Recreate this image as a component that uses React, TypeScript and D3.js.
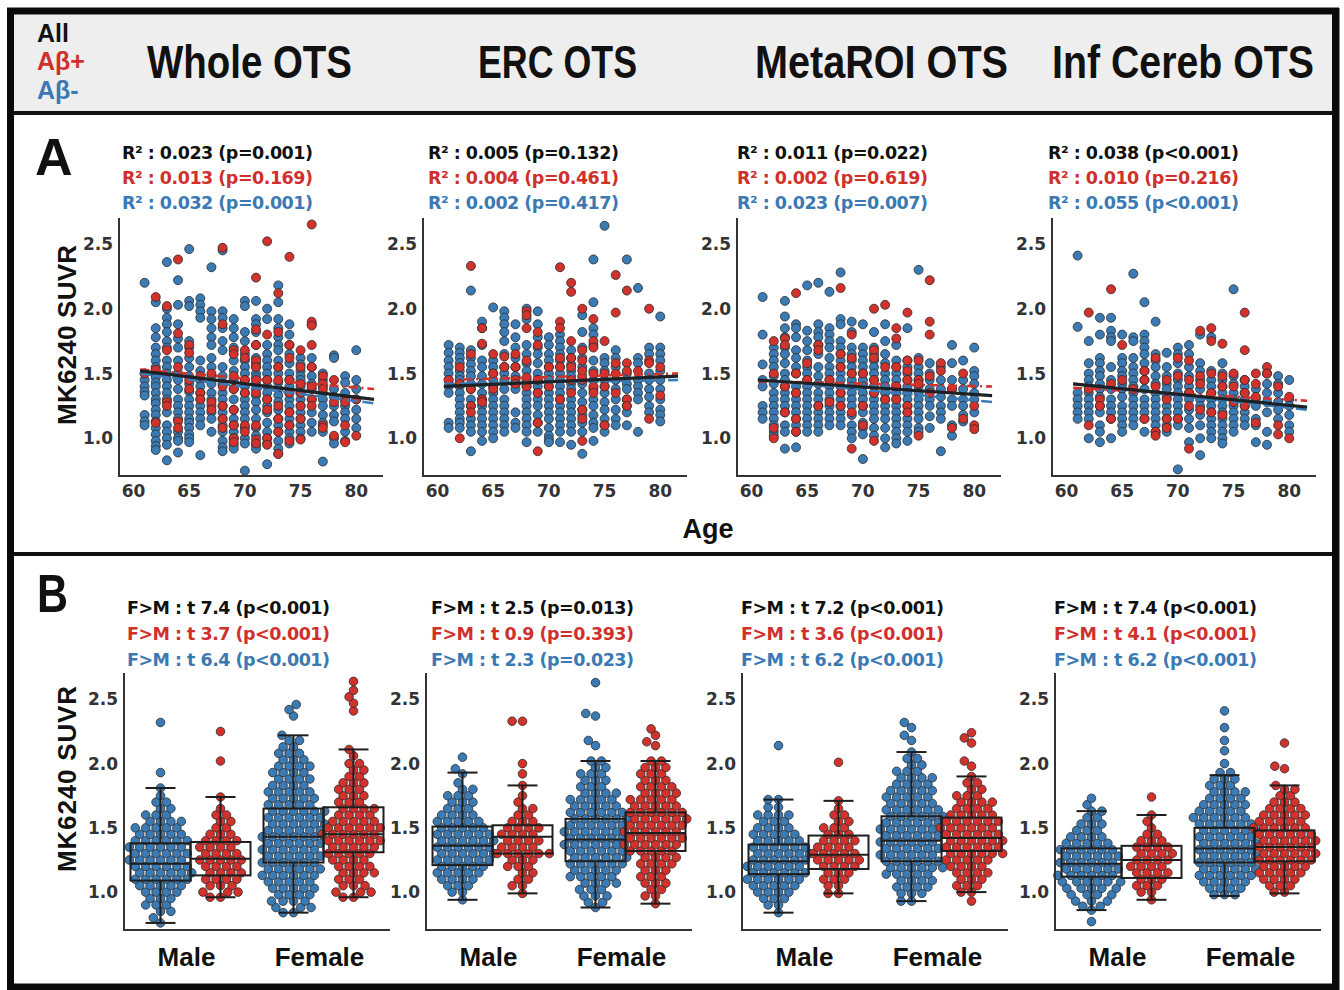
import React from "react";
import * as d3 from "d3";

// ---- labels ----
const regionTitles = ["Whole OTS", "ERC OTS", "MetaROI OTS", "Inf Cereb OTS"];
const groupNames = ["All", "Aβ+", "Aβ-"];
const ageTicks = [60, 65, 70, 75, 80];
const suvrTicks = [1.0, 1.5, 2.0, 2.5];
const sexLabels = ["Male", "Female"];

const ageStatText = [
  ["R² : 0.023 (p=0.001)", "R² : 0.013 (p=0.169)", "R² : 0.032 (p=0.001)"],
  ["R² : 0.005 (p=0.132)", "R² : 0.004 (p=0.461)", "R² : 0.002 (p=0.417)"],
  ["R² : 0.011 (p=0.022)", "R² : 0.002 (p=0.619)", "R² : 0.023 (p=0.007)"],
  ["R² : 0.038 (p<0.001)", "R² : 0.010 (p=0.216)", "R² : 0.055 (p<0.001)"],
];
const sexStatText = [
  ["F>M : t 7.4 (p<0.001)", "F>M : t 3.7 (p<0.001)", "F>M : t 6.4 (p<0.001)"],
  ["F>M : t 2.5 (p=0.013)", "F>M : t 0.9 (p=0.393)", "F>M : t 2.3 (p=0.023)"],
  ["F>M : t 7.2 (p<0.001)", "F>M : t 3.6 (p<0.001)", "F>M : t 6.2 (p<0.001)"],
  ["F>M : t 7.4 (p<0.001)", "F>M : t 4.1 (p<0.001)", "F>M : t 6.2 (p<0.001)"],
];

// ---- regression fits: value at fitAges for [All, Ab+, Ab-] ----
const fitAges = [60.6, 81.6];
const wholeFit = [[1.52, 1.3], [1.53, 1.38], [1.5, 1.27]];
const ercFit = [[1.4, 1.48], [1.45, 1.5], [1.42, 1.45]];
const metaFit = [[1.45, 1.33], [1.44, 1.4], [1.45, 1.28]];
const infFit = [[1.42, 1.24], [1.39, 1.29], [1.42, 1.22]];

// ---- panel A: SUVR by age (age, values) ----
const wholeNeg: [number, number[]][] = [
  [61, [2.2, 1.5, 1.45, 1.4, 1.36, 1.33, 1.18, 1.13, 1.1]],
  [62, [2.05, 1.85, 1.78, 1.7, 1.65, 1.6, 1.55, 1.5, 1.47, 1.43, 1.4, 1.35, 1.3, 1.27, 1.22, 1.18, 1.13, 1.08, 1.03, 0.98, 0.94, 0.91]],
  [63, [2.36, 2.0, 1.93, 1.88, 1.82, 1.75, 1.7, 1.6, 1.55, 1.5, 1.45, 1.4, 1.35, 1.3, 1.2, 1.1, 1.05, 1.0, 0.95, 0.83]],
  [64, [2.22, 2.03, 1.88, 1.77, 1.7, 1.6, 1.5, 1.45, 1.38, 1.3, 1.25, 1.2, 1.15, 1.05, 1.0, 0.98, 0.89]],
  [65, [2.46, 2.06, 2.02, 1.75, 1.7, 1.62, 1.55, 1.48, 1.42, 1.36, 1.3, 1.25, 1.2, 1.15, 1.12, 1.08, 1.03, 1.0, 0.97]],
  [66, [2.08, 2.03, 1.98, 1.93, 1.6, 1.52, 1.45, 1.4, 1.35, 1.3, 1.25, 1.2, 1.15, 1.1, 0.87]],
  [67, [2.32, 1.98, 1.92, 1.85, 1.78, 1.72, 1.62, 1.55, 1.48, 1.42, 1.35, 1.3, 1.25, 1.2, 1.15, 1.05]],
  [68, [2.45, 1.98, 1.93, 1.85, 1.75, 1.68, 1.55, 1.48, 1.42, 1.35, 1.3, 1.25, 1.2, 1.15, 1.1, 1.05, 0.98, 0.93, 0.9]],
  [69, [1.92, 1.85, 1.78, 1.7, 1.6, 1.52, 1.45, 1.38, 1.3, 1.22, 1.15, 1.1, 1.05, 1.0, 0.95, 0.92]],
  [70, [2.06, 2.02, 1.82, 1.75, 1.65, 1.6, 1.55, 1.5, 1.45, 1.4, 1.35, 1.3, 1.25, 1.2, 1.15, 1.08, 1.0, 0.96, 0.75]],
  [71, [2.06, 1.92, 1.88, 1.82, 1.72, 1.62, 1.58, 1.55, 1.5, 1.47, 1.42, 1.38, 1.33, 1.28, 1.22, 1.15, 1.08, 1.02, 0.95, 0.92]],
  [72, [2.0, 1.92, 1.72, 1.65, 1.6, 1.55, 1.5, 1.45, 1.4, 1.35, 1.3, 1.25, 1.2, 1.12, 1.05, 1.0, 0.96, 0.8]],
  [73, [2.18, 2.05, 1.92, 1.85, 1.78, 1.72, 1.68, 1.6, 1.55, 1.5, 1.43, 1.38, 1.33, 1.28, 1.22, 1.15, 1.1, 1.05, 0.98, 0.92, 0.88]],
  [74, [1.88, 1.8, 1.72, 1.65, 1.58, 1.5, 1.45, 1.4, 1.35, 1.3, 1.25, 1.2, 1.15, 1.1, 1.05, 1.0, 0.96]],
  [75, [1.62, 1.57, 1.52, 1.48, 1.45, 1.4, 1.35, 1.3, 1.25, 1.2, 1.15, 1.1, 1.05, 1.0]],
  [76, [1.88, 1.62, 1.55, 1.48, 1.42, 1.38, 1.3, 1.2, 1.12, 1.05]],
  [77, [1.5, 1.45, 1.4, 1.35, 1.3, 1.25, 1.18, 1.12, 1.05, 0.82]],
  [78, [1.64, 1.62, 1.38, 1.32, 1.25, 1.18, 1.13, 1.0, 0.96]],
  [79, [1.48, 1.43, 1.35, 1.3, 1.25, 1.2, 1.15, 1.05, 0.98]],
  [80, [1.68, 1.45, 1.38, 1.3, 1.22, 1.15, 1.08]],
];
const wholePos: [number, number[]][] = [
  [61, [1.5]], [62, [2.09, 1.53, 1.12]], [63, [2.02, 1.68, 1.28, 1.25]], [64, [2.38, 1.81, 1.55, 1.13, 1.08]],
  [65, [1.72, 1.66, 1.45, 1.38]], [66, [1.48, 1.35, 1.3]], [67, [1.5, 1.28, 1.22]], [68, [2.47, 1.88, 1.4, 1.25, 1.15, 1.08]],
  [69, [1.68, 1.65, 1.48, 1.38, 1.22, 1.1, 1.0, 0.97]], [70, [1.68, 1.62, 1.45, 1.35, 1.1, 1.05]],
  [71, [2.24, 1.84, 1.72, 1.6, 1.55, 1.45, 1.35, 1.1, 0.99, 0.96]], [72, [2.52, 1.8, 1.45, 1.3, 1.22, 1.0, 0.95]],
  [73, [2.12, 1.82, 1.55, 1.45, 1.25, 1.15, 1.05, 0.88]], [74, [2.4, 1.72, 1.62, 1.45, 1.35, 1.2, 1.1, 0.98]],
  [75, [1.68, 1.55, 1.42, 1.35, 1.25, 1.15, 0.99]], [76, [2.65, 1.9, 1.87, 1.72, 1.55, 1.4, 1.3, 1.25]],
  [77, [1.48, 1.42, 1.38, 1.1, 1.08]], [78, [1.45, 1.28, 1.02]], [79, [1.3, 1.28, 1.1, 0.97]], [80, [1.3, 1.02]],
];

const ercNeg: [number, number[]][] = [
  [61, [1.72, 1.66, 1.6, 1.55, 1.5, 1.45, 1.4, 1.35, 1.12, 1.08]],
  [62, [1.7, 1.66, 1.62, 1.58, 1.52, 1.48, 1.45, 1.4, 1.35, 1.3, 1.25, 1.2, 1.15, 1.12, 1.08]],
  [63, [2.14, 1.68, 1.62, 1.57, 1.52, 1.48, 1.42, 1.38, 1.3, 1.25, 1.15, 1.1, 1.05, 0.9]],
  [64, [1.9, 1.85, 1.72, 1.6, 1.55, 1.48, 1.42, 1.35, 1.3, 1.25, 1.2, 1.15, 1.1, 1.05, 0.98]],
  [65, [2.01, 1.6, 1.55, 1.5, 1.45, 1.4, 1.35, 1.3, 1.25, 1.2, 1.15, 1.1, 1.05, 1.0]],
  [66, [1.98, 1.93, 1.88, 1.82, 1.75, 1.65, 1.55, 1.5, 1.45, 1.38, 1.3, 1.25, 1.2, 1.15, 1.1, 1.05]],
  [67, [1.88, 1.78, 1.7, 1.62, 1.55, 1.48, 1.42, 1.38, 1.2, 1.12, 1.08]],
  [68, [2.0, 1.92, 1.72, 1.65, 1.58, 1.52, 1.45, 1.4, 1.35, 1.3, 1.25, 1.2, 1.15, 1.1, 1.05, 0.97]],
  [69, [1.98, 1.88, 1.78, 1.7, 1.65, 1.58, 1.5, 1.45, 1.4, 1.35, 1.3, 1.25, 1.18, 1.12, 1.05]],
  [70, [1.78, 1.72, 1.65, 1.6, 1.55, 1.5, 1.45, 1.4, 1.35, 1.3, 1.25, 1.2, 1.15, 1.08, 1.02, 0.99, 0.97]],
  [71, [1.8, 1.75, 1.7, 1.65, 1.6, 1.55, 1.5, 1.45, 1.4, 1.35, 1.3, 1.25, 1.2, 1.15, 1.1, 1.05, 0.97]],
  [72, [1.68, 1.62, 1.57, 1.52, 1.48, 1.42, 1.38, 1.3, 1.25, 1.2, 1.15, 1.1, 1.05, 0.95]],
  [73, [1.95, 1.82, 1.7, 1.62, 1.55, 1.48, 1.42, 1.35, 1.28, 1.22, 1.18, 1.12, 1.05, 0.88]],
  [74, [2.38, 2.05, 1.85, 1.8, 1.72, 1.6, 1.52, 1.45, 1.38, 1.3, 1.25, 1.18, 1.12, 1.08, 0.98]],
  [75, [2.64, 1.62, 1.58, 1.52, 1.45, 1.4, 1.35, 1.28, 1.22, 1.15, 1.1, 1.05]],
  [76, [1.68, 1.62, 1.55, 1.45, 1.38, 1.3, 1.22, 1.15, 1.1]],
  [77, [2.38, 1.5, 1.42, 1.38, 1.3, 1.25, 1.2, 1.1]],
  [78, [2.16, 1.62, 1.58, 1.45, 1.4, 1.35, 1.3, 1.05]],
  [79, [1.7, 1.65, 1.5, 1.45, 1.38, 1.32, 1.25, 1.2]],
  [80, [1.94, 1.7, 1.65, 1.6, 1.52, 1.45, 1.38, 1.3, 1.22, 1.18, 1.13]],
];
const ercPos: [number, number[]][] = [
  [61, [1.45]], [62, [1.55, 1.42, 1.0]], [63, [2.33, 1.65, 1.38, 1.25, 1.2]], [64, [1.85, 1.73, 1.3, 1.28]],
  [65, [1.65, 1.5, 1.38]], [66, [1.63, 1.55]], [67, [1.65, 1.55, 1.45, 1.42]], [68, [1.98, 1.95, 1.85, 1.6, 1.47, 1.4]],
  [69, [1.82, 1.72, 1.45, 1.35, 1.12, 0.9]], [70, [1.55, 1.4]], [71, [2.32, 1.9, 1.85, 1.62, 1.55, 1.3]],
  [72, [2.2, 2.13, 1.75, 1.62, 1.55, 1.45, 1.35]], [73, [2.0, 1.68, 1.6, 1.52, 1.45, 1.22, 1.15, 0.98]],
  [74, [1.92, 1.75, 1.7, 1.5, 1.4, 1.35]], [75, [1.75, 1.5, 1.4, 1.1]], [76, [2.26, 1.97, 1.58, 1.5, 1.35]],
  [77, [2.14, 1.58, 1.52, 1.3, 1.25]], [78, [1.52]], [79, [2.0, 1.6, 1.58, 1.15]], [80, [1.55, 1.33]],
];

const metaNeg: [number, number[]][] = [
  [61, [2.09, 1.8, 1.57, 1.45, 1.4, 1.25, 1.2, 1.15]],
  [62, [1.7, 1.65, 1.6, 1.55, 1.48, 1.42, 1.35, 1.3, 1.25, 1.2, 1.15, 1.1, 1.05, 1.02]],
  [63, [2.06, 1.94, 1.85, 1.78, 1.7, 1.65, 1.58, 1.5, 1.45, 1.4, 1.35, 1.3, 1.25, 1.2, 1.1, 1.05, 0.92]],
  [64, [1.88, 1.85, 1.78, 1.68, 1.62, 1.55, 1.5, 1.4, 1.35, 1.3, 1.25, 1.2, 1.15, 1.1, 1.05, 0.93]],
  [65, [2.18, 1.83, 1.75, 1.68, 1.6, 1.55, 1.5, 1.45, 1.4, 1.35, 1.3, 1.25, 1.2, 1.15, 1.1, 1.05]],
  [66, [2.2, 1.88, 1.82, 1.78, 1.72, 1.65, 1.55, 1.48, 1.42, 1.35, 1.3, 1.25, 1.2, 1.15, 1.1, 1.05]],
  [67, [2.13, 1.85, 1.8, 1.75, 1.7, 1.62, 1.55, 1.5, 1.45, 1.4, 1.35, 1.3, 1.25, 1.2, 1.15, 1.1]],
  [68, [2.28, 1.92, 1.88, 1.75, 1.7, 1.65, 1.6, 1.55, 1.5, 1.45, 1.4, 1.35, 1.3, 1.25, 1.2, 1.15, 1.1]],
  [69, [1.9, 1.82, 1.7, 1.65, 1.6, 1.55, 1.5, 1.45, 1.4, 1.35, 1.3, 1.25, 1.18, 1.1, 1.05, 1.0]],
  [70, [1.88, 1.7, 1.65, 1.6, 1.55, 1.5, 1.45, 1.4, 1.35, 1.3, 1.25, 1.2, 1.12, 1.08, 1.03, 0.84]],
  [71, [1.82, 1.7, 1.65, 1.6, 1.55, 1.5, 1.45, 1.4, 1.35, 1.3, 1.25, 1.2, 1.15, 1.08, 1.02]],
  [72, [1.88, 1.75, 1.65, 1.58, 1.5, 1.45, 1.4, 1.35, 1.3, 1.25, 1.2, 1.15, 1.08, 1.0, 0.93]],
  [73, [1.72, 1.6, 1.55, 1.5, 1.45, 1.4, 1.35, 1.3, 1.25, 1.2, 1.15, 1.1, 1.05, 1.0, 0.96]],
  [74, [1.85, 1.6, 1.55, 1.5, 1.45, 1.4, 1.35, 1.3, 1.25, 1.2, 1.15, 1.1, 1.05, 0.98]],
  [75, [2.3, 1.62, 1.55, 1.5, 1.45, 1.4, 1.35, 1.3, 1.25, 1.2, 1.15, 1.08, 1.05]],
  [76, [1.58, 1.5, 1.45, 1.38, 1.3, 1.25, 1.17, 1.08]],
  [77, [1.55, 1.45, 1.38, 1.32, 1.25, 1.2, 1.15, 0.9]],
  [78, [1.72, 1.58, 1.45, 1.38, 1.3, 1.25, 1.1, 1.02]],
  [79, [1.6, 1.45, 1.38, 1.3, 1.25, 1.18, 1.13]],
  [80, [1.7, 1.52, 1.48, 1.42, 1.35, 1.3, 1.2]],
];
const metaPos: [number, number[]][] = [
  [62, [1.75, 1.5, 1.08, 1.0]], [63, [1.77, 1.72, 1.4, 1.2]], [64, [2.12, 1.5, 1.35, 1.15, 1.05]], [65, [1.58, 1.45]],
  [66, [1.72, 1.68, 1.25]], [67, [1.45, 1.28]], [68, [2.16, 1.65, 1.55, 1.35, 1.25]], [69, [1.8, 1.62, 1.5, 1.2, 0.92]],
  [70, [1.5, 1.25, 1.1]], [71, [2.0, 1.68, 1.62, 1.45, 1.35, 0.98]], [72, [2.03, 1.55, 1.3]], [73, [1.85, 1.77, 1.55, 1.4, 1.3]],
  [74, [1.97, 1.6, 1.52, 1.45, 1.25, 1.2]], [75, [1.6, 1.45, 1.42, 1.02]], [76, [2.22, 1.9, 1.8, 1.48, 1.35]],
  [77, [1.58, 1.52]], [78, [1.38, 1.08]], [79, [1.5, 1.15]], [80, [1.25, 1.1, 1.07]],
];

const infNeg: [number, number[]][] = [
  [61, [2.41, 1.86, 1.35, 1.3, 1.25, 1.2, 1.15]],
  [62, [1.75, 1.58, 1.5, 1.45, 1.4, 1.35, 1.3, 1.25, 1.2, 1.15, 1.0]],
  [63, [1.93, 1.8, 1.62, 1.58, 1.52, 1.48, 1.42, 1.38, 1.32, 1.25, 1.2, 1.1, 1.05, 0.97]],
  [64, [1.93, 1.83, 1.78, 1.75, 1.55, 1.45, 1.38, 1.3, 1.25, 1.2, 1.15, 1.0]],
  [65, [1.8, 1.62, 1.58, 1.52, 1.48, 1.42, 1.38, 1.32, 1.25, 1.2, 1.15, 1.1, 1.05]],
  [66, [2.27, 1.78, 1.75, 1.62, 1.55, 1.5, 1.45, 1.4, 1.35, 1.3, 1.25, 1.2, 1.15, 1.1]],
  [67, [2.05, 1.8, 1.75, 1.7, 1.65, 1.58, 1.52, 1.45, 1.38, 1.3, 1.25, 1.2, 1.15, 1.05]],
  [68, [1.9, 1.65, 1.6, 1.55, 1.48, 1.42, 1.35, 1.3, 1.25, 1.2, 1.15, 1.1, 1.05]],
  [69, [1.66, 1.55, 1.48, 1.42, 1.38, 1.32, 1.25, 1.2, 1.15, 1.1, 1.05]],
  [70, [1.7, 1.65, 1.58, 1.5, 1.45, 1.4, 1.35, 1.3, 1.25, 1.2, 1.15, 1.1, 0.76]],
  [71, [1.72, 1.65, 1.55, 1.48, 1.4, 1.35, 1.3, 1.22, 1.15, 1.08, 0.97]],
  [72, [1.8, 1.58, 1.52, 1.45, 1.38, 1.3, 1.25, 1.18, 1.1, 1.0, 0.87]],
  [73, [1.78, 1.52, 1.45, 1.4, 1.35, 1.3, 1.25, 1.2, 1.15, 1.1, 1.05, 1.0]],
  [74, [1.58, 1.5, 1.45, 1.4, 1.35, 1.3, 1.25, 1.2, 1.15, 1.1, 1.05, 1.0, 0.96]],
  [75, [2.15, 1.48, 1.42, 1.35, 1.3, 1.25, 1.2, 1.15, 1.1, 1.05]],
  [76, [1.45, 1.4, 1.35, 1.3, 1.25, 1.2, 1.15, 1.1]],
  [77, [1.38, 1.3, 1.25, 1.15, 1.1, 0.97]],
  [78, [1.5, 1.42, 1.35, 1.28, 1.2, 1.05, 0.95]],
  [79, [1.48, 1.42, 1.35, 1.28, 1.22, 1.15]],
  [80, [1.45, 1.3, 1.25, 1.18, 1.1, 1.05]],
];
const infPos: [number, number[]][] = [
  [62, [1.97, 1.38, 1.1]], [63, [1.3, 1.25]], [64, [2.15, 1.42, 1.15]], [65, [1.72, 1.45]], [66, [1.38]],
  [67, [1.52, 1.45, 1.15]], [68, [1.62, 1.4, 1.05, 1.02]], [69, [1.45, 1.3, 1.15, 1.08]], [70, [1.62, 1.48, 1.15]],
  [71, [1.6, 1.45, 1.35, 1.25, 0.92]], [72, [1.83, 1.48, 1.42, 1.22]], [73, [1.85, 1.75, 1.5, 1.35, 1.2]],
  [74, [1.73, 1.48, 1.4, 1.18]], [75, [1.5, 1.4, 1.28]], [76, [1.97, 1.68, 1.45, 1.35, 1.25]],
  [77, [1.5, 1.42, 1.32, 1.12]], [78, [1.55, 1.5]], [79, [1.4, 1.1, 1.03]], [80, [1.32, 1.0]],
];

// ---- panel B: SUVR by sex, swarm rows (value, count) ----
const wholeMaleNeg: [number, number][] = [[2.32, 1], [1.93, 1], [1.81, 1], [1.75, 1], [1.7, 2], [1.65, 2], [1.6, 3], [1.55, 4], [1.5, 5], [1.45, 5], [1.4, 6], [1.35, 6], [1.3, 6], [1.25, 6], [1.2, 6], [1.15, 6], [1.1, 6], [1.05, 5], [1.0, 4], [0.95, 3], [0.9, 3], [0.85, 2], [0.8, 1], [0.76, 1]];
const wholeMalePos: [number, number][] = [[2.25, 1], [2.02, 1], [1.74, 1], [1.65, 1], [1.6, 2], [1.55, 2], [1.5, 2], [1.45, 3], [1.4, 4], [1.35, 4], [1.3, 4], [1.25, 5], [1.2, 4], [1.15, 4], [1.1, 4], [1.05, 3], [1.0, 3], [0.96, 2]];
const wholeFemaleNeg: [number, number][] = [[2.46, 1], [2.42, 1], [2.37, 1], [2.22, 1], [2.18, 2], [2.13, 2], [2.08, 3], [2.03, 3], [1.98, 4], [1.93, 4], [1.88, 4], [1.83, 4], [1.78, 5], [1.73, 5], [1.68, 5], [1.63, 6], [1.58, 6], [1.53, 6], [1.48, 6], [1.43, 6], [1.38, 6], [1.33, 6], [1.28, 6], [1.23, 6], [1.18, 6], [1.13, 6], [1.08, 5], [1.03, 5], [0.98, 4], [0.93, 4], [0.88, 3], [0.84, 2]];
const wholeFemalePos: [number, number][] = [[2.64, 1], [2.57, 1], [2.52, 1], [2.47, 1], [2.41, 1], [2.11, 1], [2.06, 1], [2.0, 2], [1.95, 2], [1.9, 2], [1.85, 3], [1.8, 3], [1.75, 3], [1.7, 3], [1.65, 4], [1.6, 4], [1.55, 5], [1.5, 6], [1.45, 6], [1.4, 6], [1.35, 5], [1.3, 5], [1.25, 4], [1.2, 4], [1.15, 4], [1.1, 3], [1.05, 3], [1.0, 3], [0.96, 2]];

const ercMaleNeg: [number, number][] = [[2.05, 1], [1.96, 1], [1.92, 1], [1.85, 1], [1.8, 2], [1.75, 3], [1.7, 3], [1.65, 3], [1.6, 4], [1.55, 5], [1.5, 5], [1.45, 6], [1.4, 6], [1.35, 6], [1.3, 6], [1.25, 6], [1.2, 5], [1.15, 5], [1.1, 4], [1.05, 3], [1.0, 2], [0.94, 1]];
const ercMalePos: [number, number][] = [[2.33, 2], [2.0, 1], [1.92, 1], [1.83, 1], [1.75, 1], [1.7, 1], [1.65, 2], [1.6, 2], [1.55, 3], [1.5, 4], [1.45, 4], [1.4, 4], [1.35, 4], [1.3, 6], [1.25, 3], [1.2, 3], [1.15, 2], [1.1, 2], [1.05, 2], [0.99, 1]];
const ercFemaleNeg: [number, number][] = [[2.63, 1], [2.39, 1], [2.37, 1], [2.18, 1], [2.14, 1], [2.02, 2], [1.97, 2], [1.92, 3], [1.87, 3], [1.82, 3], [1.77, 4], [1.72, 5], [1.67, 5], [1.62, 6], [1.57, 6], [1.52, 6], [1.47, 6], [1.42, 6], [1.37, 6], [1.32, 6], [1.27, 6], [1.22, 6], [1.17, 5], [1.12, 5], [1.07, 4], [1.02, 3], [0.97, 3], [0.92, 2], [0.88, 1]];
const ercFemalePos: [number, number][] = [[2.27, 1], [2.22, 1], [2.17, 1], [2.14, 1], [2.02, 2], [1.97, 3], [1.92, 3], [1.87, 3], [1.82, 4], [1.77, 4], [1.72, 5], [1.67, 5], [1.62, 6], [1.57, 6], [1.52, 6], [1.47, 6], [1.42, 6], [1.37, 6], [1.32, 5], [1.27, 4], [1.22, 4], [1.17, 3], [1.12, 3], [1.07, 3], [1.02, 2], [0.97, 2], [0.91, 1]];

const metaMaleNeg: [number, number][] = [[2.14, 1], [1.72, 2], [1.66, 2], [1.6, 4], [1.55, 3], [1.5, 4], [1.45, 5], [1.4, 5], [1.35, 6], [1.3, 6], [1.25, 6], [1.2, 6], [1.15, 6], [1.1, 6], [1.05, 5], [1.0, 4], [0.95, 3], [0.9, 2], [0.84, 1]];
const metaMalePos: [number, number][] = [[2.01, 1], [1.71, 1], [1.65, 1], [1.6, 2], [1.55, 2], [1.5, 3], [1.45, 3], [1.4, 4], [1.35, 4], [1.3, 5], [1.25, 5], [1.2, 4], [1.15, 3], [1.1, 3], [1.05, 2], [0.99, 2]];
const metaFemaleNeg: [number, number][] = [[2.32, 1], [2.28, 1], [2.22, 1], [2.18, 1], [2.09, 1], [2.04, 2], [1.99, 2], [1.94, 3], [1.89, 4], [1.84, 4], [1.79, 5], [1.74, 5], [1.69, 5], [1.64, 6], [1.59, 6], [1.54, 6], [1.49, 6], [1.44, 6], [1.39, 6], [1.34, 6], [1.29, 6], [1.24, 6], [1.19, 6], [1.14, 5], [1.09, 4], [1.04, 4], [0.99, 3], [0.93, 2]];
const metaFemalePos: [number, number][] = [[2.24, 1], [2.2, 1], [2.16, 1], [2.02, 1], [1.98, 1], [1.9, 1], [1.85, 2], [1.8, 2], [1.75, 3], [1.7, 4], [1.65, 4], [1.6, 5], [1.55, 6], [1.5, 6], [1.45, 6], [1.4, 6], [1.35, 6], [1.3, 6], [1.25, 5], [1.2, 4], [1.15, 4], [1.1, 3], [1.05, 3], [1.0, 2], [0.93, 1]];

const infMaleNeg: [number, number][] = [[1.73, 1], [1.68, 1], [1.63, 2], [1.58, 2], [1.53, 3], [1.48, 3], [1.43, 4], [1.38, 5], [1.33, 6], [1.28, 6], [1.23, 6], [1.18, 6], [1.13, 6], [1.08, 6], [1.03, 5], [0.98, 4], [0.93, 3], [0.89, 2], [0.86, 1], [0.77, 1]];
const infMalePos: [number, number][] = [[1.74, 1], [1.6, 1], [1.55, 1], [1.5, 1], [1.45, 2], [1.4, 3], [1.35, 4], [1.3, 4], [1.25, 4], [1.2, 4], [1.15, 4], [1.1, 3], [1.05, 3], [1.0, 2], [0.94, 1]];
const infFemaleNeg: [number, number][] = [[2.41, 1], [2.28, 1], [2.18, 1], [2.1, 1], [2.0, 1], [1.93, 2], [1.88, 3], [1.83, 3], [1.78, 4], [1.73, 4], [1.68, 5], [1.63, 5], [1.58, 6], [1.53, 6], [1.48, 6], [1.43, 6], [1.38, 6], [1.33, 6], [1.28, 6], [1.23, 6], [1.18, 6], [1.13, 6], [1.08, 5], [1.03, 4], [0.98, 3]];
const infFemalePos: [number, number][] = [[2.16, 1], [1.98, 1], [1.96, 1], [1.83, 1], [1.8, 2], [1.75, 2], [1.7, 3], [1.65, 4], [1.6, 5], [1.55, 5], [1.5, 6], [1.45, 6], [1.4, 6], [1.35, 6], [1.3, 6], [1.25, 6], [1.2, 5], [1.15, 5], [1.1, 4], [1.05, 3], [1.0, 2]];

// box stats [whisker low, q1, median, q3, whisker high]; order: male-, male+, female-, female+
const wholeBox = [[0.76, 1.09, 1.22, 1.38, 1.81], [0.96, 1.13, 1.26, 1.39, 1.74], [0.84, 1.23, 1.43, 1.65, 2.22], [0.96, 1.31, 1.45, 1.66, 2.11]];
const ercBox = [[0.94, 1.21, 1.36, 1.51, 1.93], [0.99, 1.3, 1.43, 1.52, 1.83], [0.88, 1.24, 1.41, 1.57, 2.02], [0.91, 1.32, 1.46, 1.62, 2.02]];
const metaBox = [[0.84, 1.14, 1.24, 1.37, 1.72], [0.99, 1.18, 1.29, 1.44, 1.71], [0.93, 1.24, 1.4, 1.59, 2.09], [1.0, 1.32, 1.42, 1.58, 1.9]];
const infBox = [[0.86, 1.12, 1.22, 1.34, 1.63], [0.94, 1.11, 1.25, 1.36, 1.6], [0.97, 1.23, 1.34, 1.5, 1.91], [0.99, 1.24, 1.35, 1.48, 1.83]];

const ageData = [[wholeNeg, wholePos], [ercNeg, ercPos], [metaNeg, metaPos], [infNeg, infPos]];
const fits = [wholeFit, ercFit, metaFit, infFit];
const sexData = [
  [wholeMaleNeg, wholeMalePos, wholeFemaleNeg, wholeFemalePos],
  [ercMaleNeg, ercMalePos, ercFemaleNeg, ercFemalePos],
  [metaMaleNeg, metaMalePos, metaFemaleNeg, metaFemalePos],
  [infMaleNeg, infMalePos, infFemaleNeg, infFemalePos],
];
const boxes = [wholeBox, ercBox, metaBox, infBox];

// ---- styling ----
const textColors = ["#111111", "#d0302c", "#3a79b3"];
const posFill = "#d3312c";
const negFill = "#3b7bb5";
const edge = "#2b2b2b";
const HEAD = "'Liberation Sans', Arial, sans-serif";
const NUM = "'DejaVu Sans', sans-serif";

const aLeft = [119, 423, 737, 1052];
const aStatX = [122, 428, 737, 1048];
const bLeft = [124, 426, 742, 1055];
const bStatX = [127, 431, 741, 1054];
const titleX = [147, 478, 755, 1052];
const titleW = [205, 159, 253, 262];

function expand(rows: [number, number][]) {
  const out: number[] = [];
  rows.forEach(([v, n]) => {
    for (let k = 0; k < n; k++) out.push(v);
  });
  return out;
}

// greedy swarm placement (closest free spot to the centre line);
// a = min horizontal gap in one row, b = vertical reach of a point
function swarm(values: number[], y: (v: number) => number, a: number, b: number) {
  const sorted = values.slice().sort((p, q) => p - q);
  const placed: { x: number; y: number }[] = [];
  sorted.forEach((v) => {
    const py = y(v);
    const near = placed.filter((p) => Math.abs(p.y - py) < b);
    const cands = [0];
    near.forEach((p) => {
      const dx = a * Math.sqrt(1 - ((p.y - py) / b) ** 2);
      cands.push(p.x + dx, p.x - dx);
    });
    cands.sort((p, q) => Math.abs(p) - Math.abs(q) || p - q);
    const ok = cands.find((c) => near.every((p) => ((p.x - c) / a) ** 2 + ((p.y - py) / b) ** 2 >= 0.999));
    placed.push({ x: ok ?? 0, y: py });
  });
  return placed;
}

function AgePanel({ i }: { i: number }) {
  const left = aLeft[i];
  const x = d3.scaleLinear().domain([58.7, 82.4]).range([left, left + 264]);
  const y = d3.scaleLinear().domain([0.709, 2.7]).range([476, 218]);
  const [neg, pos] = ageData[i];
  const line = d3.line<[number, number]>().x((d) => x(d[0])).y((d) => y(d[1]));
  const fit = fits[i];
  const fitPath = (k: number) => line([[fitAges[0], fit[k][0]], [fitAges[1], fit[k][1]]]) || "";
  const posByAge = new Map(pos.map((c) => [c[0], c[1]]));

  return (
    <g>
      {ageStatText[i].map((t, k) => (
        <text key={k} x={aStatX[i]} y={159 + k * 25} fill={textColors[k]} fontFamily={NUM}
          fontWeight="bold" fontSize={17.5} textLength={191}>{t}</text>
      ))}
      {neg.map(([age, vals]) => (
        <g key={age}>
          {vals.map((v, k) => (
            <circle key={"n" + k} cx={x(age)} cy={y(v)} r={4.5} fill={negFill} stroke={edge} strokeWidth={0.8} />
          ))}
          {(posByAge.get(age) || []).map((v, k) => (
            <circle key={"p" + k} cx={x(age)} cy={y(v)} r={4.5} fill={posFill} stroke={edge} strokeWidth={0.8} />
          ))}
        </g>
      ))}
      {pos.filter((c) => !neg.some((n) => n[0] === c[0])).map(([age, vals]) =>
        vals.map((v, k) => <circle key={age + "-" + k} cx={x(age)} cy={y(v)} r={4.5} fill={posFill} stroke={edge} strokeWidth={0.8} />)
      )}
      <path d={fitPath(2)} stroke={negFill} strokeWidth={2.6} fill="none" strokeDasharray="11 5" />
      <path d={fitPath(1)} stroke={posFill} strokeWidth={2.6} fill="none" strokeDasharray="9 4 2 4" />
      <path d={fitPath(0)} stroke="#1d2226" strokeWidth={3.2} fill="none" />
      <line x1={left} x2={left} y1={218} y2={477} stroke="#333" strokeWidth={2} />
      <line x1={left} x2={left + 264} y1={476} y2={476} stroke="#333" strokeWidth={2} />
      {suvrTicks.map((t) => (
        <text key={t} x={left - 6} y={y(t)} dy="0.36em" textAnchor="end" fontFamily={NUM}
          fontWeight="bold" fontSize={17} fill="#333">{t.toFixed(1)}</text>
      ))}
      {ageTicks.map((t) => (
        <text key={t} x={x(t)} y={497} textAnchor="middle" fontFamily={NUM}
          fontWeight="bold" fontSize={17} fill="#333">{t}</text>
      ))}
    </g>
  );
}

function SexPanel({ i }: { i: number }) {
  const left = bLeft[i];
  const y = d3.scaleLinear().domain([0.705, 2.705]).range([930, 673]);
  const band = d3.scaleBand().domain(sexLabels).range([left, left + 266]);
  const hue = d3.scaleBand().domain(["neg", "pos"]).range([-60, 60]);
  const groups = sexData[i].map((rows, g) => {
    const sex = sexLabels[g < 2 ? 0 : 1];
    const h = g % 2 === 0 ? "neg" : "pos";
    const cx = (band(sex) || 0) + band.bandwidth() / 2 + (hue(h) || 0) + hue.bandwidth() / 2;
    return { cx, fill: h === "neg" ? negFill : posFill, pts: swarm(expand(rows), y, 10.4, 7.1), stats: boxes[i][g] };
  });

  return (
    <g>
      {sexStatText[i].map((t, k) => (
        <text key={k} x={bStatX[i]} y={614 + k * 26} fill={textColors[k]} fontFamily={NUM}
          fontWeight="bold" fontSize={17.5} textLength={203}>{t}</text>
      ))}
      {groups.map((g, gi) => (
        <g key={gi}>
          {g.pts.map((p, k) => (
            <circle key={k} cx={g.cx + p.x} cy={p.y} r={4.3} fill={g.fill} stroke={edge} strokeWidth={0.8} />
          ))}
        </g>
      ))}
      {groups.map((g, gi) => {
        const [lo, q1, med, q3, hi] = g.stats;
        const w = hue.bandwidth();
        return (
          <g key={"b" + gi} stroke="#1e1e1e" strokeWidth={2} fill="none">
            <rect x={g.cx - w / 2} y={y(q3)} width={w} height={y(q1) - y(q3)} />
            <line x1={g.cx - w / 2} x2={g.cx + w / 2} y1={y(med)} y2={y(med)} />
            <line x1={g.cx} x2={g.cx} y1={y(q3)} y2={y(hi)} />
            <line x1={g.cx} x2={g.cx} y1={y(q1)} y2={y(lo)} />
            <line x1={g.cx - w / 4} x2={g.cx + w / 4} y1={y(hi)} y2={y(hi)} />
            <line x1={g.cx - w / 4} x2={g.cx + w / 4} y1={y(lo)} y2={y(lo)} />
          </g>
        );
      })}
      <line x1={left} x2={left} y1={673} y2={931} stroke="#333" strokeWidth={2} />
      <line x1={left} x2={left + 266} y1={930} y2={930} stroke="#333" strokeWidth={2} />
      {suvrTicks.map((t) => (
        <text key={t} x={left - 6} y={y(t)} dy="0.36em" textAnchor="end" fontFamily={NUM}
          fontWeight="bold" fontSize={17} fill="#333">{t.toFixed(1)}</text>
      ))}
      {sexLabels.map((s) => (
        <text key={s} x={(band(s) || 0) + band.bandwidth() / 2 - 4} y={966} textAnchor="middle" fontFamily={HEAD}
          fontWeight="bold" fontSize={26} fill="#111">{s}</text>
      ))}
    </g>
  );
}

export default function App() {
  return (
    <svg width={1344} height={990} style={{ position: "absolute", left: 0, top: 0, display: "block" }}>
      <rect x={0} y={0} width={1344} height={990} fill="#ffffff" />
      <rect x={14} y={14} width={1318} height={98} fill="#eeeeee" />

      {groupNames.map((g, k) => (
        <text key={g} x={37} y={[42, 70, 99][k]} fill={textColors[k]} fontFamily={HEAD}
          fontWeight="bold" fontSize={25}>{g}</text>
      ))}
      {regionTitles.map((t, i) => (
        <text key={t} transform={`translate(${titleX[i]},78) scale(1,1.2)`} fontFamily={HEAD} fontWeight="bold"
          fontSize={38.5} fill="#111" textLength={titleW[i]} lengthAdjust="spacingAndGlyphs">{t}</text>
      ))}

      <text x={35} y={175} fontFamily={HEAD} fontWeight="bold" fontSize={52} fill="#111">A</text>
      <text x={37} y={612} fontFamily={HEAD} fontWeight="bold" fontSize={54} fill="#111"
        textLength={31} lengthAdjust="spacingAndGlyphs">B</text>

      {regionTitles.map((t, i) => <AgePanel key={t} i={i} />)}
      {regionTitles.map((t, i) => <SexPanel key={t} i={i} />)}

      <text transform="translate(76,335) rotate(-90)" textAnchor="middle" fontFamily={HEAD}
        fontWeight="bold" fontSize={26} fill="#111" textLength={180}>MK6240 SUVR</text>
      <text transform="translate(76,779) rotate(-90)" textAnchor="middle" fontFamily={HEAD}
        fontWeight="bold" fontSize={26} fill="#111" textLength={186}>MK6240 SUVR</text>
      <text x={708} y={538} textAnchor="middle" fontFamily={HEAD} fontWeight="bold" fontSize={27} fill="#111">Age</text>

      <line x1={10} x2={1337} y1={113} y2={113} stroke="#111" strokeWidth={4} />
      <line x1={10} x2={1337} y1={554} y2={554} stroke="#111" strokeWidth={4} />
      <rect x={10.5} y={11} width={1325} height={976} fill="none" stroke="#0a0a0a" strokeWidth={7} />
      <line x1={1337} x2={1337} y1={8} y2={990} stroke="#0a0a0a" strokeWidth={5} />
    </svg>
  );
}
